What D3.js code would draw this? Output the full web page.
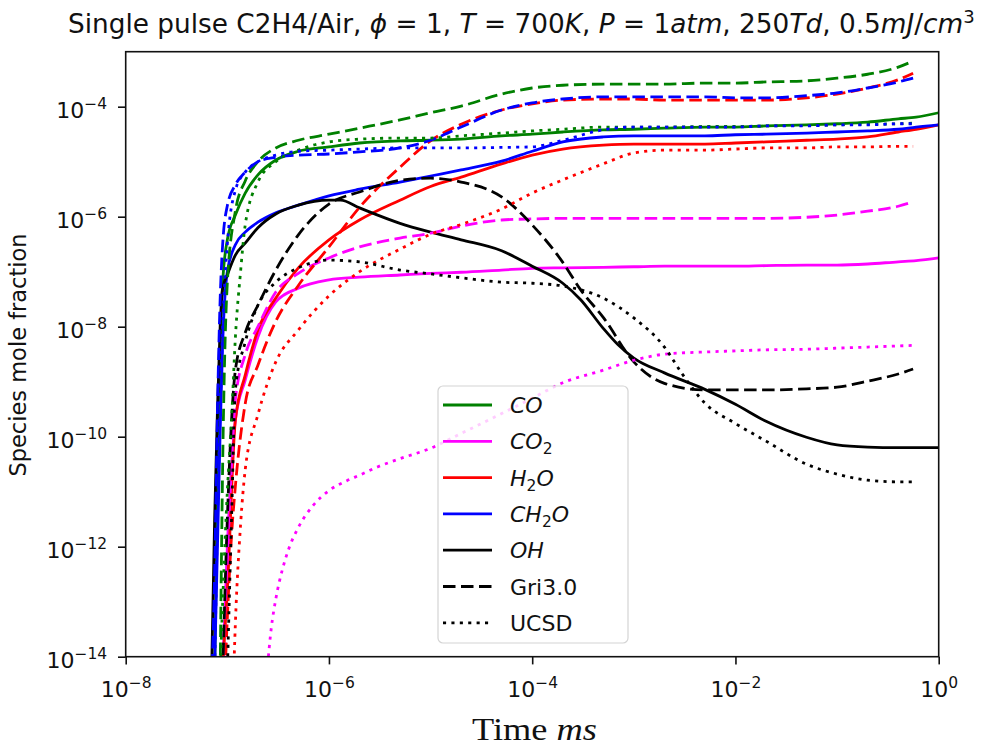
<!DOCTYPE html>
<html>
<head>
<meta charset="utf-8">
<script src="https://cdn.jsdelivr.net/npm/d3@7"></script>
<style>
  body { margin: 0; background: #fff; }
  svg text { fill: #111; }
</style>
</head>
<body>
<div class="chart"></div>
<script>
// time in ms, second value = log10(mole fraction)
// solid = base mechanism, dashed = Gri3.0, dotted = UCSD
const coMain = [[7.5e-8,-14.3],[8e-8,-11],[8.5e-8,-8.5],[9e-8,-7.2],[1e-7,-6.42],[1.2e-7,-5.97],[1.5e-7,-5.57],[2e-7,-5.24],[3e-7,-4.97],[5e-7,-4.81],[1e-6,-4.73],[2e-6,-4.66],[5e-6,-4.62],[1e-5,-4.61],[2e-5,-4.59],[5e-5,-4.53],[1e-4,-4.5],[2e-4,-4.46],[5e-4,-4.42],[1e-3,-4.41],[2e-3,-4.39],[5e-3,-4.37],[1e-2,-4.37],[2e-2,-4.35],[5e-2,-4.33],[0.1,-4.31],[0.2,-4.28],[0.4,-4.22],[0.6,-4.19],[1,-4.11]];
const co2Main = [[9e-8,-14.2],[1e-7,-12],[1.2e-7,-9.7],[1.5e-7,-8.97],[2e-7,-8.19],[3e-7,-7.55],[5e-7,-7.3],[1e-6,-7.15],[2e-6,-7.1],[5e-6,-7.06],[1e-5,-7.03],[2e-5,-7.01],[5e-5,-6.97],[1e-4,-6.94],[2e-4,-6.93],[5e-4,-6.92],[1e-3,-6.91],[2e-3,-6.9],[5e-3,-6.9],[1e-2,-6.9],[2e-2,-6.89],[5e-2,-6.88],[0.1,-6.88],[0.2,-6.86],[0.4,-6.82],[0.6,-6.8],[1,-6.75]];
const h2oMain = [[9e-8,-14.2],[1e-7,-12.8],[1.2e-7,-9.7],[1.5e-7,-8.88],[2e-7,-8.06],[3e-7,-7.48],[5e-7,-6.93],[1e-6,-6.42],[2e-6,-6.06],[5e-6,-5.7],[1e-5,-5.45],[2e-5,-5.28],[5e-5,-5.04],[1e-4,-4.88],[2e-4,-4.77],[5e-4,-4.7],[1e-3,-4.68],[2e-3,-4.68],[5e-3,-4.68],[1e-2,-4.66],[2e-2,-4.64],[5e-2,-4.61],[0.1,-4.59],[0.2,-4.55],[0.4,-4.46],[0.6,-4.41],[1,-4.33]];
const ch2oMain = [[7.5e-8,-14.2],[8e-8,-12],[8.5e-8,-9.9],[9e-8,-8.3],[1e-7,-7.0],[1.2e-7,-6.51],[1.5e-7,-6.28],[2e-7,-6.1],[3e-7,-5.93],[5e-7,-5.79],[1e-6,-5.62],[2e-6,-5.5],[5e-6,-5.37],[1e-5,-5.26],[2e-5,-5.15],[5e-5,-4.99],[1e-4,-4.81],[2e-4,-4.64],[5e-4,-4.55],[1e-3,-4.53],[2e-3,-4.53],[5e-3,-4.53],[1e-2,-4.51],[2e-2,-4.5],[5e-2,-4.48],[0.1,-4.46],[0.2,-4.44],[0.4,-4.41],[0.6,-4.37],[1,-4.33]];
const ohMain = [[7e-8,-14.3],[7.5e-8,-11.5],[8e-8,-9.5],[8.5e-8,-8.0],[9e-8,-7.3],[1e-7,-7.06],[1.2e-7,-6.7],[1.5e-7,-6.48],[2e-7,-6.2],[3e-7,-5.95],[5e-7,-5.79],[1e-6,-5.7],[1.3e-6,-5.7],[2e-6,-5.84],[5e-6,-6.12],[1e-5,-6.28],[2e-5,-6.42],[5e-5,-6.62],[1e-4,-6.9],[2e-4,-7.21],[3e-4,-7.51],[5e-4,-8.03],[7e-4,-8.33],[1e-3,-8.57],[2e-3,-8.84],[5e-3,-9.14],[1e-2,-9.41],[2e-2,-9.72],[5e-2,-10.01],[0.1,-10.15],[0.2,-10.19],[0.4,-10.2],[0.6,-10.2],[1,-10.2]];

const coGri = [[8.5e-8,-14.3],[9e-8,-10.5],[1e-7,-7.2],[1.2e-7,-5.9],[1.5e-7,-5.35],[2e-7,-5.0],[3e-7,-4.75],[5e-7,-4.61],[1e-6,-4.5],[2e-6,-4.39],[5e-6,-4.24],[1e-5,-4.11],[2e-5,-3.99],[5e-5,-3.77],[1e-4,-3.66],[2e-4,-3.61],[5e-4,-3.59],[1e-3,-3.59],[2e-3,-3.59],[5e-3,-3.57],[1e-2,-3.57],[2e-2,-3.55],[5e-2,-3.53],[0.1,-3.48],[0.2,-3.41],[0.4,-3.28],[0.56,-3.17]];
const co2Gri = [[9.5e-8,-14.3],[1e-7,-12.5],[1.1e-7,-10.5],[1.2e-7,-9.33],[1.5e-7,-8.51],[2e-7,-8.0],[3e-7,-7.37],[5e-7,-7.03],[1e-6,-6.75],[2e-6,-6.55],[5e-6,-6.39],[1e-5,-6.3],[2e-5,-6.17],[5e-5,-6.06],[1e-4,-6.04],[2e-4,-6.03],[5e-4,-6.03],[1e-3,-6.03],[2e-3,-6.03],[5e-3,-6.03],[1e-2,-6.03],[2e-2,-6.03],[5e-2,-6.01],[0.1,-5.97],[0.2,-5.9],[0.4,-5.81],[0.56,-5.73]];
const h2oGri = [[9.5e-8,-14.3],[1e-7,-13.3],[1.1e-7,-11.8],[1.2e-7,-10.9],[1.5e-7,-9.4],[2e-7,-8.7],[3e-7,-7.9],[5e-7,-7.25],[1e-6,-6.55],[2e-6,-5.83],[5e-6,-5.1],[1e-5,-4.62],[2e-5,-4.32],[5e-5,-4.06],[1e-4,-3.95],[2e-4,-3.88],[5e-4,-3.86],[1e-3,-3.86],[2e-3,-3.88],[5e-3,-3.88],[1e-2,-3.88],[2e-2,-3.88],[5e-2,-3.84],[0.1,-3.77],[0.2,-3.66],[0.4,-3.51],[0.56,-3.39]];
const ch2oGri = [[7e-8,-14.5],[7.5e-8,-12.5],[8e-8,-9.5],[8.5e-8,-7.5],[9e-8,-6.5],[1e-7,-5.8],[1.2e-7,-5.42],[1.5e-7,-5.19],[2e-7,-5.0],[3e-7,-4.92],[5e-7,-4.88],[1e-6,-4.86],[2e-6,-4.82],[5e-6,-4.75],[1e-5,-4.61],[2e-5,-4.37],[5e-5,-4.06],[1e-4,-3.93],[2e-4,-3.86],[5e-4,-3.82],[1e-3,-3.82],[2e-3,-3.82],[5e-3,-3.82],[1e-2,-3.84],[2e-2,-3.84],[5e-2,-3.8],[0.1,-3.75],[0.2,-3.66],[0.4,-3.55],[0.56,-3.48]];
const ohGri = [[9e-8,-14.3],[1e-7,-11.5],[1.2e-7,-8.79],[1.5e-7,-8.11],[2e-7,-7.61],[3e-7,-6.97],[5e-7,-6.33],[1e-6,-5.77],[2e-6,-5.55],[5e-6,-5.34],[1e-5,-5.3],[2e-5,-5.37],[5e-5,-5.64],[1e-4,-6.15],[2e-4,-6.83],[3e-4,-7.33],[5e-4,-7.83],[1e-3,-8.64],[2e-3,-9.03],[5e-3,-9.15],[1e-2,-9.15],[2e-2,-9.15],[5e-2,-9.13],[0.1,-9.1],[0.2,-8.99],[0.4,-8.86],[0.56,-8.77]];

const coUcsd = [[8.5e-8,-14.3],[9e-8,-13],[1e-7,-11],[1.1e-7,-9.7],[1.2e-7,-8.2],[1.35e-7,-7.0],[1.5e-7,-6.15],[2e-7,-5.37],[3e-7,-5.0],[5e-7,-4.79],[1e-6,-4.64],[2e-6,-4.59],[5e-6,-4.57],[1e-5,-4.57],[2e-5,-4.53],[5e-5,-4.48],[1e-4,-4.44],[2e-4,-4.41],[5e-4,-4.37],[1e-3,-4.37],[2e-3,-4.37],[5e-3,-4.36],[1e-2,-4.36],[2e-2,-4.35],[5e-2,-4.34],[0.1,-4.33],[0.2,-4.32],[0.4,-4.31],[0.56,-4.3]];
const co2Ucsd = [[2.45e-7,-14.3],[2.7e-7,-13.5],[3e-7,-12.95],[3.5e-7,-12.4],[4e-7,-12.05],[5e-7,-11.65],[7e-7,-11.25],[1e-6,-10.98],[1.5e-6,-10.8],[2e-6,-10.7],[3e-6,-10.55],[5e-6,-10.4],[1e-5,-10.21],[2e-5,-9.94],[5e-5,-9.58],[1e-4,-9.3],[2e-4,-9.02],[5e-4,-8.79],[1e-3,-8.61],[2e-3,-8.5],[5e-3,-8.46],[1e-2,-8.44],[2e-2,-8.42],[5e-2,-8.41],[0.1,-8.39],[0.2,-8.37],[0.4,-8.35],[0.56,-8.34]];
const h2oUcsd = [[1.15e-7,-14.4],[1.2e-7,-13.4],[1.35e-7,-11.6],[1.5e-7,-10.6],[2e-7,-9.6],[3e-7,-8.64],[5e-7,-8.06],[1e-6,-7.44],[2e-6,-7.0],[5e-6,-6.59],[1e-5,-6.32],[2e-5,-6.14],[5e-5,-5.86],[1e-4,-5.57],[2e-4,-5.33],[5e-4,-5.04],[1e-3,-4.84],[2e-3,-4.79],[5e-3,-4.79],[1e-2,-4.77],[2e-2,-4.75],[5e-2,-4.75],[0.1,-4.73],[0.2,-4.73],[0.4,-4.72],[0.56,-4.72]];
const ch2oUcsd = [[7.5e-8,-14.3],[8e-8,-11.5],[8.5e-8,-9.5],[9e-8,-8],[1e-7,-6.5],[1.2e-7,-5.52],[1.5e-7,-5.19],[2e-7,-5.0],[3e-7,-4.88],[5e-7,-4.81],[1e-6,-4.79],[2e-6,-4.77],[5e-6,-4.75],[1e-5,-4.75],[2e-5,-4.75],[5e-5,-4.74],[1e-4,-4.73],[2e-4,-4.61],[5e-4,-4.42],[1e-3,-4.37],[2e-3,-4.37],[5e-3,-4.37],[1e-2,-4.37],[2e-2,-4.35],[5e-2,-4.35],[0.1,-4.33],[0.2,-4.33],[0.4,-4.31],[0.56,-4.31]];
const ohUcsd = [[1e-7,-14.3],[1.1e-7,-11.5],[1.2e-7,-9.15],[1.5e-7,-8.28],[2e-7,-7.61],[3e-7,-7.19],[5e-7,-6.93],[1e-6,-6.79],[2e-6,-6.82],[5e-6,-6.97],[1e-5,-7.04],[2e-5,-7.11],[5e-5,-7.19],[1e-4,-7.21],[2e-4,-7.26],[5e-4,-7.48],[1e-3,-7.84],[2e-3,-8.37],[3e-3,-8.86],[5e-3,-9.39],[1e-2,-9.76],[2e-2,-10.08],[5e-2,-10.5],[0.1,-10.68],[0.2,-10.79],[0.4,-10.82],[0.56,-10.82]];

const xTicks = [1e-8, 1e-6, 1e-4, 1e-2, 1];
const yTicks = [1e-14, 1e-12, 1e-10, 1e-8, 1e-6, 1e-4];

const speciesColors = ['green', '#ff00ff', '#ff0000', '#0000ff', '#000000'];
const mainSet = [coMain, co2Main, h2oMain, ch2oMain, ohMain];
const griSet = [coGri, co2Gri, h2oGri, ch2oGri, ohGri];
const ucsdSet = [coUcsd, co2Ucsd, h2oUcsd, ch2oUcsd, ohUcsd];

const dashes = { solid: null, dashed: '12.5,5.5', dotted: '3.1,5.3' };

// build list of lines to draw
let series = [];
mainSet.forEach((d, i) => series.push({ data: d, color: speciesColors[i], dash: dashes.solid }));
griSet.forEach((d, i) => series.push({ data: d, color: speciesColors[i], dash: dashes.dashed }));
ucsdSet.forEach((d, i) => series.push({ data: d, color: speciesColors[i], dash: dashes.dotted }));

const marginLeft = 125.7, marginTop = 51.7;
const width = 813, height = 605;
const sansFont = '"DejaVu Sans", sans-serif';

const svg = d3.select('.chart')
  .append('svg')
    .attr('width', 994)
    .attr('height', 747)
    .style('font-family', sansFont);

const chart = svg.append('g')
  .attr('transform', `translate(${marginLeft},${marginTop})`);

svg.append('defs').append('clipPath')
  .attr('id', 'plotclip')
  .append('rect')
    .attr('width', width)
    .attr('height', height);

//scales
const x = d3.scaleLog().domain([1e-8, 1]).range([0, width]);
const y = d3.scaleLog().domain([1e-14, 1e-3]).range([height, 0]);

//lines
const line = d3.line()
  .x(d => x(d[0]))
  .y(d => y(Math.pow(10, d[1])))
  .curve(d3.curveMonotoneX);

chart.append('g')
  .attr('clip-path', 'url(#plotclip)')
  .selectAll('path')
  .data(series)
  .enter().append('path')
    .attr('d', d => line(d.data))
    .attr('fill', 'none')
    .attr('stroke', d => d.color)
    .attr('stroke-width', 2.8)
    .attr('stroke-dasharray', d => d.dash);

// power-of-ten tick label
function powLabel(sel, e) {
  sel.text(null);
  sel.append('tspan').text('10');
  sel.append('tspan')
    .attr('dy', -9)
    .attr('font-size', 15.5)
    .text(e < 0 ? '\u2212' + (-e) : String(e));
}

//x axis
const xAxis = chart.append('g')
  .attr('transform', `translate(0,${height})`)
  .call(d3.axisBottom(x).tickValues(xTicks).tickSize(7.7).tickFormat(() => ''));
xAxis.select('.domain').remove();
xAxis.selectAll('.tick line').attr('stroke', '#111').attr('stroke-width', 1.6);
xAxis.selectAll('.tick text')
  .attr('y', 40)
  .attr('dy', null)
  .attr('font-size', 22)
  .attr('font-family', sansFont)
  .each(function(d) { powLabel(d3.select(this), Math.round(Math.log10(d))); });

//y axis
const yAxis = chart.append('g')
  .call(d3.axisLeft(y).tickValues(yTicks).tickSize(7.7).tickFormat(() => ''));
yAxis.select('.domain').remove();
yAxis.selectAll('.tick line').attr('stroke', '#111').attr('stroke-width', 1.6);
yAxis.selectAll('.tick text')
  .attr('x', -18.5)
  .attr('y', 10.6)
  .attr('dy', null)
  .attr('font-size', 22)
  .attr('font-family', sansFont)
  .each(function(d) { powLabel(d3.select(this), Math.round(Math.log10(d))); });

//frame
chart.append('rect')
  .attr('width', width)
  .attr('height', height)
  .attr('fill', 'none')
  .attr('stroke', '#111')
  .attr('stroke-width', 1.6);

//title
const title = svg.append('text')
  .attr('font-size', 26.3)
  .attr('x', 0)
  .attr('y', 0);
const titleParts = [
  ['Single pulse C2H4/Air, ', false], ['\u03d5', true], [' = 1, ', false],
  ['T', true], [' = 700', false], ['K', true], [', ', false],
  ['P', true], [' = 1', false], ['atm', true], [', 250', false],
  ['Td', true], [', 0.5', false], ['mJ', true], ['/', false], ['cm', true]
];
titleParts.forEach(p => {
  title.append('tspan')
    .attr('font-style', p[1] ? 'italic' : 'normal')
    .text(p[0]);
});
title.append('tspan').attr('dy', -10).attr('font-size', 18).text('3');
const tw = title.node().getBBox().width;
title.attr('transform', `translate(68,33) scale(${907 / tw},1)`);

//x label (serif)
const xLabel = svg.append('text')
  .style('font-family', '"Liberation Serif", "DejaVu Serif", serif')
  .attr('font-size', 32);
xLabel.append('tspan').text('Time ');
xLabel.append('tspan').attr('font-style', 'italic').text('ms');
const xw = xLabel.node().getBBox().width;
xLabel.attr('transform', `translate(472,740) scale(${125 / xw},1)`);

//y label
svg.append('text')
  .attr('font-size', 22.5)
  .attr('text-anchor', 'middle')
  .attr('transform', 'translate(26,355) rotate(-90)')
  .text('Species mole fraction');

//legend
const legend = svg.append('g').attr('transform', 'translate(438,386)');
legend.append('rect')
  .attr('width', 190)
  .attr('height', 257)
  .attr('rx', 5)
  .attr('fill', '#fff')
  .attr('fill-opacity', 0.8)
  .attr('stroke', '#d4d4d4')
  .attr('stroke-width', 1.2);

// label pieces: [text, italic, subscript]
const legendItems = [
  { color: speciesColors[0], dash: null, parts: [['CO', true]] },
  { color: speciesColors[1], dash: null, parts: [['CO', true], ['2', false, true]] },
  { color: speciesColors[2], dash: null, parts: [['H', true], ['2', false, true], ['O', true]] },
  { color: speciesColors[3], dash: null, parts: [['CH', true], ['2', false, true], ['O', true]] },
  { color: speciesColors[4], dash: null, parts: [['OH', true]] },
  { color: '#000', dash: dashes.dashed, parts: [['Gri3.0', false]] },
  { color: '#000', dash: dashes.dotted, parts: [['UCSD', false]] }
];

const rows = legend.selectAll('.legend-row')
  .data(legendItems)
  .enter().append('g')
    .attr('class', 'legend-row')
    .attr('transform', (d, i) => `translate(0,${19 + i * 36.3})`);

rows.append('line')
  .attr('x1', 5)
  .attr('x2', 54)
  .attr('stroke', d => d.color)
  .attr('stroke-width', 2.8)
  .attr('stroke-dasharray', d => d.dash);

rows.append('text')
  .attr('x', 72)
  .attr('y', 8)
  .attr('font-size', 22)
  .each(function(d) {
    const t = d3.select(this);
    let shifted = false;
    d.parts.forEach(p => {
      const s = t.append('tspan')
        .attr('font-style', p[1] ? 'italic' : 'normal')
        .text(p[0]);
      if (p[2]) { s.attr('dy', 5).attr('font-size', 15.5); shifted = true; }
      else if (shifted) { s.attr('dy', -5); shifted = false; }
    });
  });
</script>
</body>
</html>
